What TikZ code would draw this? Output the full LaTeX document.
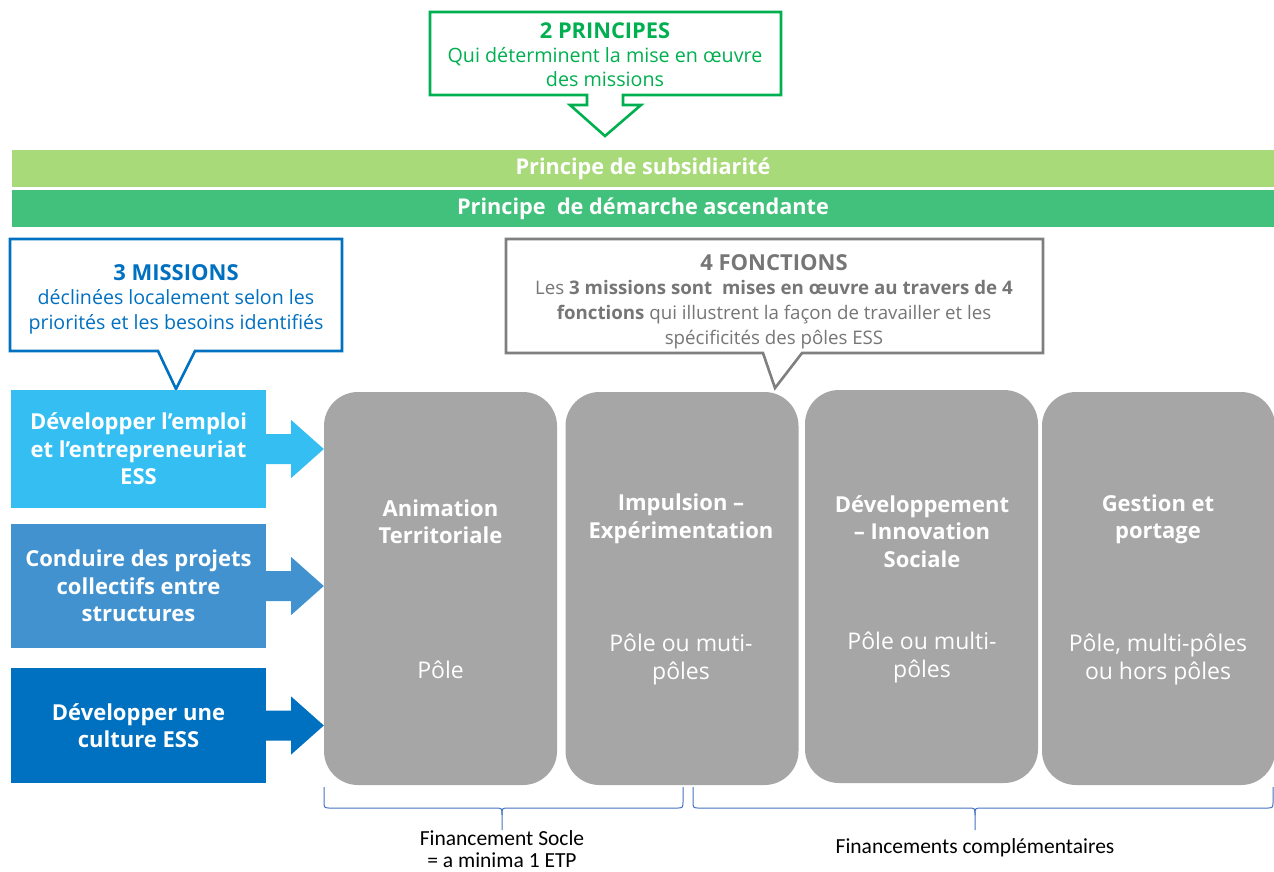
\documentclass[tikz,border=0pt]{standalone}
\usepackage{fontspec}
\setmainfont{Open Sans}
\newfontfamily\calib{Carlito}
\usetikzlibrary{calc}
\definecolor{pgreen}{RGB}{0,176,80}
\definecolor{bandlight}{RGB}{169,218,122}
\definecolor{banddark}{RGB}{66,193,125}
\definecolor{mblue}{RGB}{0,112,192}
\definecolor{cgrey}{RGB}{127,127,127}
\definecolor{tgrey}{RGB}{118,118,118}
\definecolor{mone}{RGB}{52,190,242}
\definecolor{mtwo}{RGB}{66,146,208}
\definecolor{mthree}{RGB}{0,112,192}
\definecolor{boxgrey}{RGB}{166,166,166}
\definecolor{brace}{RGB}{68,114,196}
\begin{document}
\begin{tikzpicture}[x=1pt,y=-1pt,
  band/.style={minimum width=1262pt,minimum height=37pt,inner sep=0pt,text=white,font=\fontsize{21.7}{24}\selectfont\bfseries},
  mission/.style={minimum width=255pt,inner sep=0pt,text=white,align=center,font=\fontsize{22}{27.5}\selectfont\bfseries},
  fbox/.style={fill=boxgrey,rounded corners=34pt,minimum width=233pt,minimum height=393pt,inner sep=0pt},
  ftitle/.style={text=white,align=center,font=\fontsize{22}{27.5}\selectfont\bfseries},
  fsub/.style={text=white,align=center,font=\fontsize{23}{28}\selectfont},
  callout/.style={fill=white,line width=2.6pt,line join=miter},
  braceline/.style={draw=brace,line width=1pt},
  btext/.style={align=center,inner sep=0pt,font=\calib\fontsize{21.5}{21.5}\selectfont}
]
\useasboundingbox (0,0) rectangle (1274,871);
\fill[white] (0,0) rectangle (1274,871);

% top green callout
\draw[callout,draw=pgreen] (430,12) -- (781,12) -- (781,95) -- (623,95) -- (623,105) -- (641,105) -- (605,136) -- (570,105) -- (587,105) -- (587,95) -- (430,95) -- cycle;
\node[text=pgreen,align=center,font=\fontsize{19.7}{24}\selectfont] (princ) at (605,55) {\textbf{\fontsize{21.8}{24}\selectfont 2 PRINCIPES}\\Qui déterminent la mise en œuvre\\des missions};

% bands
\node[band,fill=bandlight] (sub) at (643,168.5) {\raisebox{-1.5pt}{Principe de subsidiarité}};
\node[band,fill=banddark] (asc) at (643,208.5) {\raisebox{-1.5pt}{Principe \ de démarche ascendante}};

% blue callout
\draw[callout,draw=mblue] (10,239) -- (342,239) -- (342,351) -- (195,351) -- (176,389) -- (158,351) -- (10,351) -- cycle;
\node[text=mblue,align=center,font=\fontsize{19.6}{24.5}\selectfont] (miss) at (176,299) {\textbf{\fontsize{22}{24.5}\selectfont 3 MISSIONS}\\déclinées localement selon les\\priorités et les besoins identifiés};

% mission boxes
\node[mission,fill=mone,minimum height=118pt] (m1) at (138.5,449) {Développer l’emploi\\et l’entrepreneuriat\\ESS};
\node[mission,fill=mtwo,minimum height=124pt] (m2) at (138.5,586) {Conduire des projets\\collectifs entre\\structures};
\node[mission,fill=mthree,minimum height=115pt] (m3) at (138.5,725.5) {Développer une\\culture ESS};

% grey function boxes
\node[fbox] (f1) at (440.5,588.5) {};
\node[fbox] (f2) at (682,588.5) {};
\node[fbox] (f3) at (921.5,586.5) {};
\node[fbox] (f4) at (1158.5,588.5) {};

% block arrows
\foreach \m/\c in {m1/mone,m2/mtwo,m3/mthree}{
  \fill[\c] ($(\m.east)+(-1,-15)$) -- ($(\m.east)+(25,-15)$) -- ($(\m.east)+(25,-29)$) -- (f1.west |- \m.east) -- ($(\m.east)+(25,29)$) -- ($(\m.east)+(25,15)$) -- ($(\m.east)+(-1,15)$) -- cycle;
}

% grey callout
\draw[callout,draw=cgrey] (506,239) -- (1043,239) -- (1043,353) -- (802,353) -- (775,388) -- (763,353) -- (506,353) -- cycle;
\node[text=tgrey,align=center,font=\fontsize{18.7}{24.7}\selectfont] (fonc) at (774,301.5) {\textbf{\fontsize{22}{24.7}\selectfont 4 FONCTIONS}\\Les \textbf{3 missions sont \ mises en œuvre au travers de 4}\\\textbf{fonctions} qui illustrent la façon de travailler et les\\spécificités des pôles ESS};

% function texts
\node[ftitle] (t1) at (440.5,521.5) {Animation\\Territoriale};
\node[fsub] (s1) at (440.5,670) {Pôle};
\node[ftitle] (t2) at (681,519) {Impulsion –\\Expérimentation};
\node[fsub] (s2) at (681,659) {Pôle ou muti-\\pôles};
\node[ftitle] (t3) at (922,531.5) {Développement\\– Innovation\\Sociale};
\node[fsub] (s3) at (922,657) {Pôle ou multi-\\pôles};
\node[ftitle] (t4) at (1158,519.5) {Gestion et\\portage};
\node[fsub] (s4) at (1158,659) {Pôle, multi-pôles\\ou hors pôles};

% braces
\foreach \xl/\xr/\xm in {324/683/502,693/1273/975}{
  \draw[braceline] (\xl,787) -- (\xl,801) .. controls (\xl,808) .. (\xl+7,808) -- (\xm-7,808) .. controls (\xm,808) .. (\xm,815) -- (\xm,830);
  \draw[braceline] (\xr,787) -- (\xr,801) .. controls (\xr,808) .. (\xr-7,808) -- (\xm+7,808) .. controls (\xm,808) .. (\xm,815);
}
\node[btext] (fs) at (502,849) {Financement Socle\\= a minima 1 ETP};
\node[btext] (fc) at (975,848) {Financements complémentaires};
\end{tikzpicture}
\end{document}
